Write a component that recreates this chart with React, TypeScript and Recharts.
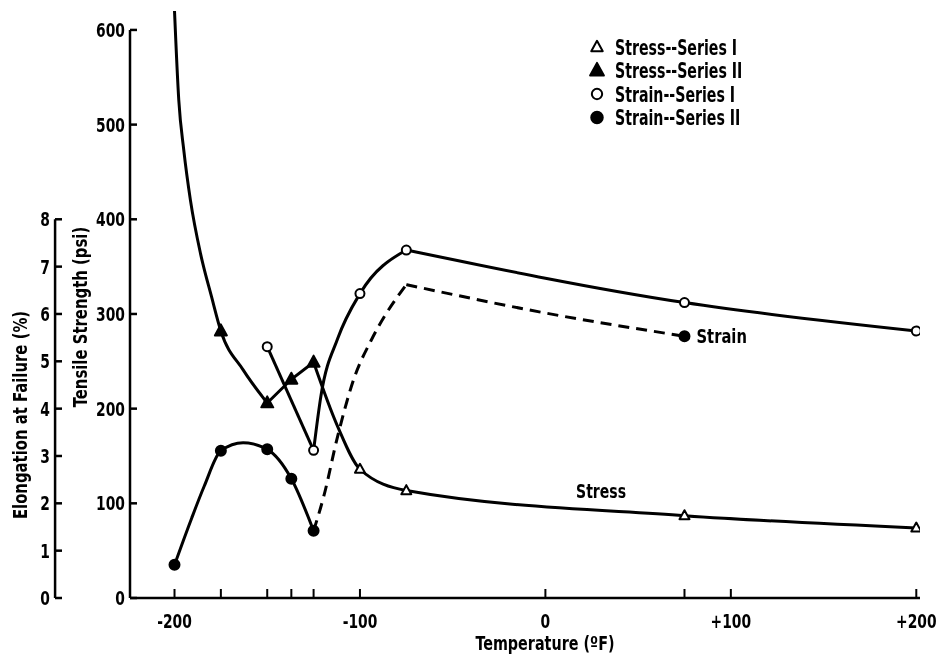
import React from 'react';
import {
  ComposedChart,
  Line,
  Scatter,
  XAxis,
  YAxis,
  ReferenceLine,
  ReferenceDot,
  Legend,
} from 'recharts';

const FONT = "'DejaVu Sans Condensed', 'DejaVu Sans', sans-serif";
const INK = '#000';
const TS = 'a_tensile';
const EL = 'b_elong';

// ---- axes ----
const X_MIN = -224;
const X_MAX = 202;
const X_TICKS = [-200, -175, -150, -137, -125, -100, 0, 75, 100, 200];
const X_LABELED = [-200, -100, 0, 100, 200];
const TENSILE_MAX = 620;
const TENSILE_TICKS = [0, 100, 200, 300, 400, 500, 600];
const ELONG_MAX = 12.4; // 8 % == 400 psi
const ELONG_TICKS = [0, 1, 2, 3, 4, 5, 6, 7, 8];
const ELONG_AXIS_X = -264.4; // where the outer (elongation) axis sits, in temperature units

// ---- measured points ----
// Stress -- Series I (open triangles), psi
const stressITemps = [-100, -75, 75, 200];
const stressIValues = [136, 113.5, 87, 74];
// Stress -- Series II (filled triangles), psi
const stressIITemps = [-175, -150, -137, -125];
const stressIIValues = [282, 206, 231, 249];
// Strain -- Series I (open circles), %
const strainITemps = [-150, -125, -100, -75, 75, 200];
const strainIValues = [5.31, 3.12, 6.43, 7.35, 6.24, 5.64];
// Strain -- Series II (filled circles), %
const strainIITemps = [-200, -175, -150, -137, -125, 75];
const strainIIValues = [0.7, 3.11, 3.14, 2.52, 1.42, 5.53];

// ---- faired curves ----
const stressColdTemps = [-200, -197.7, -195, -191.4, -186, -180, -175, -163, -150];
const stressColdValues = [620, 526, 473, 420, 364, 318, 282, 241, 206];
const stressKinkTemps = [-150, -137, -125];
const stressKinkValues = [206, 231, 249];
const stressWarmTemps = [-125, -112, -100, -75, 75, 200];
const stressWarmValues = [249, 181, 136, 113.5, 87, 74];

const strainIDropTemps = [-150, -125];
const strainIDropValues = [5.31, 3.12];
const strainIRiseTemps = [-125, -121, -112, -100, -75];
const strainIRiseValues = [3.12, 4.28, 5.48, 6.43, 7.35];
const strainIWarmTemps = [-75, 75, 200];
const strainIWarmValues = [7.35, 6.24, 5.64];

const strainIIArchTemps = [-200, -191, -184, -175, -163, -150, -137, -125];
const strainIIArchValues = [0.7, 1.66, 2.36, 3.11, 3.28, 3.14, 2.52, 1.42];
const strainIIRiseTemps = [-125, -119.5, -112, -103, -94, -86, -80, -75];
const strainIIRiseValues = [1.42, 2.15, 3.42, 4.66, 5.44, 6.0, 6.35, 6.62];
const strainIIWarmTemps = [-75, 0, 75];
const strainIIWarmValues = [6.62, 6.02, 5.53];

const LEGEND_LABELS = [
  'Stress--Series I',
  'Stress--Series II',
  'Strain--Series I',
  'Strain--Series II',
];
const LEGEND_KINDS = ['openTri', 'fillTri', 'openCirc', 'fillCirc'];

const pts = (xs: number[], ys: number[]) => xs.map((x, i) => ({ x, y: ys[i] }));

const NarrowText = ({
  x,
  y,
  anchor = 'start',
  size = 20,
  sx = 0.77,
  rotate = 0,
  children,
}: {
  x: number;
  y: number;
  anchor?: 'start' | 'middle' | 'end';
  size?: number;
  sx?: number;
  rotate?: number;
  children: React.ReactNode;
}) => (
  <g transform={`translate(${x},${y}) rotate(${rotate}) scale(${sx},1)`}>
    <text x={0} y={0} textAnchor={anchor} fontFamily={FONT} fontWeight="bold" fontSize={size} fill={INK}>
      {children}
    </text>
  </g>
);

const Marker = ({ kind, cx, cy, scale = 1 }: { kind: string; cx: number; cy: number; scale?: number }) => {
  if (kind === 'openTri' || kind === 'fillTri') {
    const h = (kind === 'fillTri' ? 11 : 9) * scale;
    const w = (kind === 'fillTri' ? 12 : 10) * scale;
    const d = `M${cx},${cy - h * 0.6} L${cx + w / 2},${cy + h * 0.4} L${cx - w / 2},${cy + h * 0.4} Z`;
    return (
      <path
        d={d}
        fill={kind === 'fillTri' ? INK : '#fff'}
        stroke={INK}
        strokeWidth={2}
        strokeLinejoin="round"
      />
    );
  }
  const r = (kind === 'fillCirc' ? 5 : 4.5) * scale;
  return (
    <circle cx={cx} cy={cy} r={r} fill={kind === 'fillCirc' ? INK : '#fff'} stroke={INK} strokeWidth={2} />
  );
};

const shapeOf = (kind: string) => (props: any) => <Marker kind={kind} cx={props.cx} cy={props.cy} />;

const XTick = (props: any) => {
  const { x, y, payload } = props;
  const v = payload.value as number;
  const label = X_LABELED.includes(v) ? (v > 0 ? `+${v}` : `${v}`) : '';
  return (
    <g>
      <line x1={x} x2={x} y1={y} y2={y - 9} stroke={INK} strokeWidth={2} />
      {label && (
        <NarrowText x={x} y={y + 30} anchor="middle">
          {label}
        </NarrowText>
      )}
    </g>
  );
};

const YTick = (props: any) => {
  const { x, y, payload } = props;
  return (
    <g>
      <line x1={x} x2={x + 7} y1={y} y2={y} stroke={INK} strokeWidth={2.5} />
      <NarrowText x={x - 5} y={y + 7} anchor="end">
        {payload.value}
      </NarrowText>
    </g>
  );
};

const LegendBox = () => (
  <svg width={220} height={100}>
    {LEGEND_LABELS.map((label, i) => (
      <g key={label}>
        <Marker kind={LEGEND_KINDS[i]} cx={10} cy={12 + i * 23.5} scale={1.15} />
        <NarrowText x={28} y={19.5 + i * 23.5} size={21} sx={0.75}>
          {label}
        </NarrowText>
      </g>
    ))}
  </svg>
);

const curve = (id: string, axis: string, xs: number[], ys: number[], type: any, dashed = false) => (
  <Line
    key={id}
    yAxisId={axis}
    data={pts(xs, ys)}
    dataKey="y"
    type={type}
    stroke={INK}
    strokeWidth={3}
    strokeDasharray={dashed ? '11 7' : undefined}
    dot={false}
    activeDot={false}
    isAnimationActive={false}
    legendType="none"
  />
);

export default function App() {
  return (
    <div style={{ position: 'fixed', left: 8, top: 8 }}>
      <ComposedChart
        width={937}
        height={655}
        margin={{ top: 3, right: 25, bottom: 0, left: 0 }}
        style={{ fontFamily: FONT }}
      >
        <XAxis
          type="number"
          dataKey="x"
          domain={[X_MIN, X_MAX]}
          ticks={X_TICKS}
          interval={0}
          allowDataOverflow
          height={65}
          tickSize={0}
          tickMargin={0}
          tickLine={false}
          axisLine={{ stroke: INK, strokeWidth: 2.5 }}
          tick={XTick}
          label={{
            value: 'Temperature (ºF)',
            content: () => (
              <NarrowText x={537} y={642} anchor="middle" size={19} sx={0.84}>
                Temperature (ºF)
              </NarrowText>
            ),
          }}
        />
        <YAxis
          yAxisId={TS}
          orientation="left"
          type="number"
          dataKey="y"
          width={75}
          domain={[0, TENSILE_MAX]}
          ticks={TENSILE_TICKS}
          interval={0}
          allowDataOverflow
          tickSize={0}
          tickMargin={0}
          tickLine={false}
          axisLine={false}
          tick={YTick}
          label={{
            value: 'Tensile Strength (psi)',
            content: () => (
              <NarrowText x={79} y={309} anchor="middle" size={19} sx={0.87} rotate={-90}>
                Tensile Strength (psi)
              </NarrowText>
            ),
          }}
        />
        <YAxis
          yAxisId={EL}
          orientation="left"
          type="number"
          dataKey="y"
          width={47}
          domain={[0, ELONG_MAX]}
          ticks={ELONG_TICKS}
          interval={0}
          allowDataOverflow
          tickSize={0}
          tickMargin={0}
          tickLine={false}
          axisLine={false}
          tick={YTick}
          label={{
            value: 'Elongation at Failure (%)',
            content: () => (
              <NarrowText x={19} y={407} anchor="middle" size={19} sx={0.87} rotate={-90}>
                Elongation at Failure (%)
              </NarrowText>
            ),
          }}
        />

        <ReferenceLine
          yAxisId={TS}
          segment={[{ x: X_MIN, y: 0 }, { x: X_MIN, y: 600 }]}
          stroke={INK}
          strokeWidth={2.5}
          ifOverflow="visible"
        />
        <ReferenceLine
          yAxisId={EL}
          segment={[{ x: ELONG_AXIS_X, y: 0 }, { x: ELONG_AXIS_X, y: 8 }]}
          stroke={INK}
          strokeWidth={2.5}
          ifOverflow="visible"
        />

        {curve('s1', TS, stressColdTemps, stressColdValues, 'monotone')}
        {curve('s2', TS, stressKinkTemps, stressKinkValues, 'linear')}
        {curve('s3', TS, stressWarmTemps, stressWarmValues, 'monotone')}
        {curve('e1', EL, strainIDropTemps, strainIDropValues, 'linear')}
        {curve('e2', EL, strainIRiseTemps, strainIRiseValues, 'monotone')}
        {curve('e3', EL, strainIWarmTemps, strainIWarmValues, 'monotone')}
        {curve('f1', EL, strainIIArchTemps, strainIIArchValues, 'monotone')}
        {curve('f2', EL, strainIIRiseTemps, strainIIRiseValues, 'monotone', true)}
        {curve('f3', EL, strainIIWarmTemps, strainIIWarmValues, 'monotone', true)}

        <Scatter yAxisId={TS} data={pts(stressITemps, stressIValues)} shape={shapeOf('openTri')} isAnimationActive={false} legendType="none" />
        <Scatter yAxisId={TS} data={pts(stressIITemps, stressIIValues)} shape={shapeOf('fillTri')} isAnimationActive={false} legendType="none" />
        <Scatter yAxisId={EL} data={pts(strainITemps, strainIValues)} shape={shapeOf('openCirc')} isAnimationActive={false} legendType="none" />
        <Scatter yAxisId={EL} data={pts(strainIITemps, strainIIValues)} shape={shapeOf('fillCirc')} isAnimationActive={false} legendType="none" />

        <ReferenceDot
          yAxisId={EL}
          x={75}
          y={5.53}
          r={0}
          fill="none"
          stroke="none"
          label={{
            value: 'Strain',
            content: (p: any) => (
              <NarrowText x={p.viewBox.x + 12} y={p.viewBox.y + 7} sx={0.82}>
                Strain
              </NarrowText>
            ),
          }}
        />
        <ReferenceDot
          yAxisId={TS}
          x={30}
          y={113}
          r={0}
          fill="none"
          stroke="none"
          label={{
            value: 'Stress',
            content: (p: any) => (
              <NarrowText x={p.viewBox.x} y={p.viewBox.y + 7} anchor="middle" sx={0.78}>
                Stress
              </NarrowText>
            ),
          }}
        />

        <Legend
          layout="vertical"
          align="center"
          verticalAlign="middle"
          wrapperStyle={{ top: 27, left: 579, width: 220 }}
          content={LegendBox}
        />
      </ComposedChart>
    </div>
  );
}
